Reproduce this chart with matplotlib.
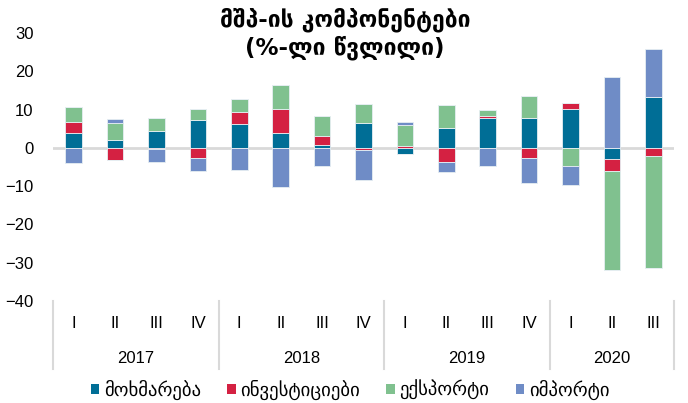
import matplotlib
matplotlib.use("Agg")
import matplotlib.pyplot as plt
import numpy as np
from matplotlib.transforms import blended_transform_factory
from matplotlib.patches import Patch

plt.rcParams['font.family'] = ['Liberation Sans', 'DejaVu Sans']

quarters = ['I', 'II', 'III', 'IV', 'I', 'II', 'III', 'IV', 'I', 'II', 'III', 'IV', 'I', 'II', 'III']
years = ['2017', '2018', '2019', '2020']
year_counts = [4, 4, 4, 3]

series_names = ['მოხმარება', 'ინვესტიციები', 'ექსპორტი', 'იმპორტი']
consumption = [3.8, 2.1, 4.4, 7.4, 6.2, 3.8, 0.7, 6.4, -1.5, 5.3, 7.7, 7.9, 10.1, -2.9, 13.4]
investment = [3.0, -3.2, -0.3, -2.6, 3.1, 6.4, 2.5, -0.5, 0.4, -3.7, 0.5, -2.6, 1.7, -3.1, -2.1]
exports = [3.9, 4.4, 3.5, 2.7, 3.5, 6.1, 5.2, 5.1, 5.5, 5.8, 1.7, 5.7, -4.8, -25.9, -29.3]
imports = [-4.0, 1.0, -3.3, -3.5, -5.7, -10.3, -4.8, -7.8, 0.9, -2.6, -4.7, -6.5, -4.8, 18.6, 12.4]
colors = ['#006E96', '#D42142', '#80C18F', '#6F8CC6']

title = 'მშპ-ის კომპონენტები\n(%-ლი წვლილი)'

fig = plt.figure(figsize=(6.88, 4.03), dpi=100)
ax = fig.add_axes([53/688, 1-301/403, (674-53)/688, 268/403])

x = np.arange(len(quarters))
pos_base = np.zeros(len(x))
neg_base = np.zeros(len(x))
for name, vals, c in zip(series_names, [consumption, investment, exports, imports], colors):
    v = np.array(vals)
    pos = np.where(v > 0, v, 0)
    neg = np.where(v < 0, v, 0)
    ax.bar(x, pos, bottom=pos_base, width=0.4, color=c, edgecolor='#e6eef2', linewidth=0.6, zorder=2)
    ax.bar(x, neg, bottom=neg_base, width=0.4, color=c, edgecolor='#e6eef2', linewidth=0.6, zorder=2)
    pos_base += pos
    neg_base += neg

ax.axhline(0, color='#d9d9d9', linewidth=2, zorder=1)
ax.set_xlim(-0.5, len(x) - 0.5)
ax.set_ylim(-40, 30)
ax.set_yticks(range(-40, 31, 10))
ax.tick_params(axis='y', length=0, labelsize=12, pad=14, colors='black')
for s in ax.spines.values():
    s.set_visible(False)
ax.set_xticks([])

trans = blended_transform_factory(ax.transData, ax.transAxes)
for xi, q in zip(x, quarters):
    ax.text(xi, -0.085, q, transform=trans, ha='center', va='center', fontsize=12)
start = 0
seps = [-0.5]
for yr, n in zip(years, year_counts):
    ax.text(start + (n - 1) / 2, -0.215, yr, transform=trans, ha='center', va='center', fontsize=12)
    start += n
    seps.append(start - 0.5)
for s in seps:
    ax.plot([s, s], [0, -0.255], transform=trans, color='#d9d9d9', linewidth=1.5, clip_on=False)

fig.text(345/688, 1-34/403, title, ha='center', va='center', fontsize=16.5, fontweight='bold',
         linespacing=1.2, family=['DejaVu Sans'])

handles = [Patch(facecolor=c, edgecolor='none') for c in colors]
fig.legend(handles, series_names, loc='center', bbox_to_anchor=(350/688, 1-390/403), ncol=4,
           frameon=False, handlelength=0.45, handleheight=0.45, handletextpad=0.25,
           columnspacing=1.4, prop={'family': ['DejaVu Sans'], 'size': 13.5})

fig.savefig('out.png', dpi=100)
